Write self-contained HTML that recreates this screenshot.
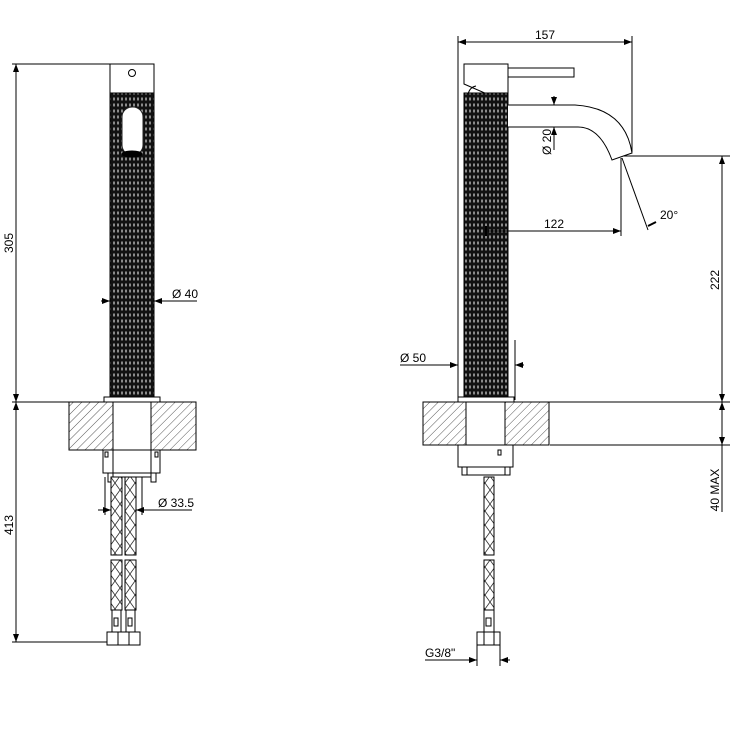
<!DOCTYPE html>
<html><head><meta charset="utf-8"><style>html,body{margin:0;padding:0;background:#fff}svg{display:block}</style></head>
<body>
<svg width="750" height="750" viewBox="0 0 750 750" xmlns="http://www.w3.org/2000/svg" font-family="Liberation Sans, sans-serif">
<defs>
<pattern id="kn" width="4" height="6" patternUnits="userSpaceOnUse">
<rect width="4" height="6" fill="#111"/>
<ellipse cx="2" cy="3" rx="0.75" ry="1.7" fill="#bbb"/>
</pattern>
<pattern id="ht" width="6" height="6" patternUnits="userSpaceOnUse" patternTransform="rotate(45)">
<rect width="6" height="6" fill="#fff"/>
<line x1="0" y1="0" x2="0" y2="6" stroke="#444" stroke-width="0.9"/>
</pattern>
<pattern id="br" width="10" height="14" patternUnits="userSpaceOnUse">
<rect width="10" height="14" fill="#fff"/>
<path d="M0 0 L10 14 M10 0 L0 14" stroke="#333" stroke-width="0.8"/>
</pattern>
<marker id="a" markerWidth="8" markerHeight="6" refX="8" refY="3" orient="auto-start-reverse" markerUnits="userSpaceOnUse"><path d="M0 0 L8 3 L0 6z" fill="#000"/></marker>
</defs>
<g stroke="#000" stroke-width="1" fill="none">
<line x1="12" y1="64" x2="110" y2="64"/>
<line x1="12" y1="402" x2="70" y2="402"/>
<line x1="12" y1="642" x2="118" y2="642"/>
<line x1="16" y1="64" x2="16" y2="402" marker-start="url(#a)" marker-end="url(#a)"/>
<line x1="16" y1="402" x2="16" y2="642" marker-start="url(#a)" marker-end="url(#a)"/>
<rect x="110" y="64" width="44" height="29" fill="#fff"/>
<circle cx="132" cy="73" r="3.5"/>
<rect x="110" y="93" width="44" height="304" fill="url(#kn)" stroke="#000"/>
<rect x="122" y="107" width="21" height="48" rx="10" ry="10" fill="#fff" stroke="#222"/>
<ellipse cx="132" cy="154" rx="10" ry="3" fill="#000"/>
<line x1="101" y1="301" x2="110" y2="301" marker-end="url(#a)"/>
<line x1="197" y1="301" x2="154" y2="301" marker-end="url(#a)"/>
<rect x="104" y="397" width="56" height="5" fill="#fff"/>
<rect x="69" y="402" width="44" height="48" fill="url(#ht)"/>
<rect x="151" y="402" width="45" height="48" fill="url(#ht)"/>
<line x1="113" y1="402" x2="151" y2="402"/>
<line x1="113" y1="450" x2="151" y2="450"/>
<rect x="103" y="450" width="57" height="23" fill="#fff"/>
<line x1="113" y1="450" x2="113" y2="473"/><line x1="151" y1="450" x2="151" y2="473"/>
<rect x="105" y="452" width="3" height="5"/><rect x="155" y="452" width="3" height="5"/>
<rect x="108" y="473" width="48" height="4" fill="#fff"/>
<rect x="108" y="473" width="5" height="9" fill="#fff"/><rect x="151" y="473" width="5" height="9" fill="#fff"/>
<rect x="111" y="477" width="11" height="78" fill="url(#br)"/>
<rect x="125" y="477" width="11" height="78" fill="url(#br)"/>
<rect x="111" y="560" width="11" height="50" fill="url(#br)"/>
<rect x="125" y="560" width="11" height="50" fill="url(#br)"/>
<rect x="112" y="610" width="9" height="22" fill="#fff"/><rect x="126" y="610" width="9" height="22" fill="#fff"/>
<rect x="114" y="618" width="4" height="8"/><rect x="128" y="618" width="4" height="8"/>
<rect x="107" y="632" width="33" height="13" fill="#fff"/>
<line x1="118" y1="632" x2="118" y2="645"/><line x1="129" y1="632" x2="129" y2="645"/>
<line x1="105" y1="477" x2="105" y2="515"/><line x1="142" y1="477" x2="142" y2="515"/>
<line x1="98" y1="510" x2="111" y2="510" marker-end="url(#a)"/>
<line x1="192" y1="510" x2="136" y2="510" marker-end="url(#a)"/>

<line x1="458" y1="36" x2="458" y2="400"/>
<line x1="632" y1="36" x2="632" y2="152"/>
<line x1="458" y1="42" x2="632" y2="42" marker-start="url(#a)" marker-end="url(#a)"/>
<path d="M464 64 L508 64 L508 94 L487 94 L464 84 Z" fill="#fff"/>
<path d="M468 94 Q470 87 476 86"/>
<rect x="508" y="68" width="66" height="9" fill="#fff"/>
<rect x="464" y="93" width="44" height="304" fill="url(#kn)"/>
<path d="M508 105 L575 105 Q625 108 632 153 L612 160 Q600 127 578 127 L508 127" fill="#fff"/>
<line x1="554" y1="96" x2="554" y2="105" marker-end="url(#a)"/>
<line x1="554" y1="150" x2="554" y2="127" marker-end="url(#a)"/>
<line x1="621" y1="158" x2="621" y2="236"/>
<line x1="488" y1="231" x2="621" y2="231" marker-end="url(#a)"/>
<line x1="486" y1="226" x2="486" y2="236" stroke-width="2"/>
<line x1="622" y1="158" x2="648" y2="230"/>
<line x1="648" y1="226" x2="656" y2="222" stroke-width="2"/>
<line x1="623" y1="156" x2="730" y2="156"/>
<line x1="722" y1="156" x2="722" y2="402" marker-start="url(#a)" marker-end="url(#a)"/>
<line x1="722" y1="402" x2="722" y2="445" marker-start="url(#a)" marker-end="url(#a)"/>
<line x1="722" y1="445" x2="722" y2="512"/>
<line x1="423" y1="402" x2="730" y2="402"/>
<line x1="550" y1="445" x2="730" y2="445"/>
<line x1="515" y1="340" x2="515" y2="400"/>
<line x1="400" y1="365" x2="458" y2="365" marker-end="url(#a)"/>
<line x1="524" y1="365" x2="515" y2="365" marker-end="url(#a)"/>
<rect x="458" y="397" width="56" height="5" fill="#fff"/>
<rect x="423" y="402" width="43" height="43" fill="url(#ht)"/>
<rect x="505" y="402" width="44" height="43" fill="url(#ht)"/>
<line x1="466" y1="445" x2="505" y2="445"/>
<rect x="458" y="445" width="55" height="22" fill="#fff"/>
<rect x="498" y="450" width="3" height="5"/>
<rect x="462" y="467" width="48" height="8" fill="#fff"/>
<line x1="467" y1="467" x2="467" y2="475"/><line x1="505" y1="467" x2="505" y2="475"/>
<rect x="484" y="477" width="10" height="78" fill="url(#br)"/>
<rect x="484" y="560" width="10" height="50" fill="url(#br)"/>
<rect x="484" y="610" width="10" height="22" fill="#fff"/>
<rect x="486" y="618" width="5" height="8"/>
<rect x="477" y="632" width="23" height="13" fill="#fff"/>
<line x1="484" y1="632" x2="484" y2="645"/><line x1="494" y1="632" x2="494" y2="645"/>
<line x1="477" y1="640" x2="477" y2="666"/><line x1="500" y1="640" x2="500" y2="666"/>
<line x1="425" y1="660" x2="477" y2="660" marker-end="url(#a)"/>
<line x1="510" y1="660" x2="500" y2="660" marker-end="url(#a)"/>
</g>
<g font-size="12" fill="#000">
<text transform="translate(13,243) rotate(-90)" text-anchor="middle">305</text>
<text transform="translate(13,525) rotate(-90)" text-anchor="middle">413</text>
<text x="172" y="298">Ø 40</text>
<text x="158" y="507">Ø 33.5</text>
<text x="535" y="39">157</text>
<text transform="translate(551,155) rotate(-90)">Ø 20</text>
<text x="544" y="228">122</text>
<text x="660" y="219">20°</text>
<text transform="translate(719,280) rotate(-90)" text-anchor="middle">222</text>
<text transform="translate(719,490) rotate(-90)" text-anchor="middle">40 MAX</text>
<text x="400" y="362">Ø 50</text>
<text x="425" y="657">G3/8"</text>
</g>
</svg>
</body></html>
